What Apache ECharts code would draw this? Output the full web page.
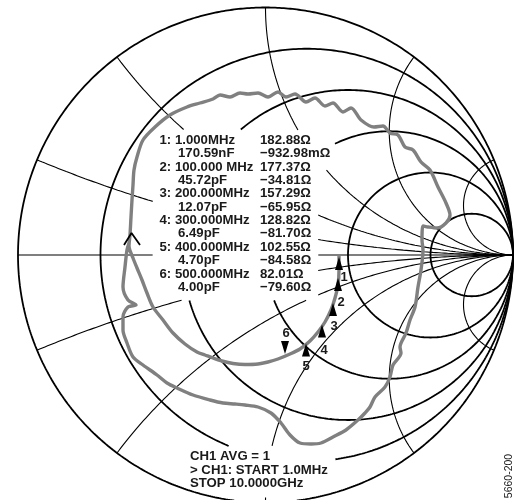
<!DOCTYPE html>
<html>
<head>
<meta charset="utf-8">
<style>html,body{margin:0;padding:0;background:#fff}#c{width:516px;height:500px}</style>
<script src="https://cdn.jsdelivr.net/npm/echarts@6/dist/echarts.min.js"></script>
</head>
<body>
<div id="c"></div>
<script>
// Smith chart grid values (normalised resistance and reactance)
const resistanceCircles = [0.2, 0.5, 1, 2, 5];
const reactanceArcs = [0.2, 0.5, 1, 2, 5, -0.2, -0.5, -1, -2, -5, 0];

// S-parameter trace (plane units, unit circle radius = 247.5)
const traceRe = [73.5,73.5,72.5,69.5,65.5,59.5,52.5,44.5,34.5,24.5,12.5,2.5,-7.5,-20.5,-32.5,-43.5,-52.5,-60.5,-68.5,-80.5,-92.5,-102.5,-112.5,-118.5,-123.5,-128.5,-132.5,-136.5,-135.5,
 -134.5,-133.5,-132.5,-131.5,-128.5,-122.5,-110.5,-95.5,-78.5,-65.5,-52.5,-45.5,-35.5,-25.5,-17.5,-7.5,2.5,12.5,20.5,29.5,40.5,49.5,59.5,67.5,77.5,85.5,95.5,108.5,117.5,124.5,132.5,139.5,147.5,155.5,164.5,172.5,180.5,184.5,180.5,171.5,162.5,157.5,156.5,157.5,
 155.5,152.5,149.5,144.5,140.5,134.5,135.5,127.5,124.5,119.5,109.5,104.5,99.5,92.5,80.5,67.5,55.5,45.5,34.5,24.5,15.5,5.5,-7.5,-20.5,-30.5,-42.5,-55.5,-72.5,-88.5,-98.5,-108.5,-122.5,-132.5,-138.5,-142.5,-142.5,-137.5,-129.5,-137.5,-142.5,-140.5,-138.5,-136.5];
const traceIm = [-1,-15,-30,-43,-55,-67,-77,-86,-94,-99,-104,-107,-109,-109.5,-108.5,-106,-103,-100,-97,-89,-78,-65,-52,-38,-25,-13,-3,9,20,
 38,55,70,85,98,115,128,140,148,152,156,160,158,162,161,162,158,163,158,161,153,157,149,152,143,147,135,128,129,122,120,108,105,93,85,68,52,40,32,27,28,29,15,5,
 -15,-32,-52,-65,-78,-92,-98,-110,-122,-132,-142,-152,-158,-165,-175,-182,-188,-189,-188,-180,-168,-158,-152,-150,-149,-148,-145,-140,-133,-128,-120,-110,-102,-88,-75,-62,-52,-50,-45,-32,-12,5,12];

// Start-of-sweep arrow on the trace
const arrowRe = [-141.5, -134, -125.5];
const arrowIm = [10, 22, 10];

// Frequency markers
const markerRe = [73.5, 72.5, 67.5, 56.5, 40.5, 19.5];
const markerIm = [-8.5, -29.5, -54.5, -76, -95, -92.5];
const markerNames = ['1', '2', '3', '4', '5', '6'];
const markerNameRe = [78.5, 75.5, 68.5, 58.5, 40.5, 20.5];
const markerNameIm = [-22, -47, -71, -95, -111, -78];

// Marker readout text
const readoutLeft = ['1: 1.000MHz','170.59nF','2: 100.000 MHz','45.72pF','3: 200.000MHz','12.07pF','4: 300.000MHz','6.49pF','5: 400.000MHz','4.70pF','6: 500.000MHz','4.00pF'];
const readoutRight = ['182.88Ω','−932.98mΩ','177.37Ω','−34.81Ω','157.29Ω','−65.95Ω','128.82Ω','−81.70Ω','102.55Ω','−84.58Ω','82.01Ω','−79.60Ω'];
const sweepText = ['CH1 AVG = 1','> CH1: START 1.0MHz','STOP 10.0000GHz'];
const figureId = '5660-200';

// Plane: unit circle radius in axis units
const R = 247.5;
// Blank panels kept clear behind the text: [xmin, xmax, ymin, ymax] in plane units
const panels = [
  [-112.5, 52.5, -45, 125],
  [52.5, 69.5, 85, 125],
  [-75.5, 69.5, -242, -191]
];
const inPanel = (p) => panels.some(b => p[0] > b[0] && p[0] < b[1] && p[1] > b[2] && p[1] < b[3]);

function toPlane(r, x) {
  const d = (r + 1) * (r + 1) + x * x;
  return [R * (r * r + x * x - 1) / d, R * (2 * x) / d];
}
function split(points) {
  const segs = []; let cur = [];
  points.forEach(p => {
    if (inPanel(p)) { if (cur.length > 1) segs.push(cur); cur = []; }
    else cur.push(p);
  });
  if (cur.length > 1) segs.push(cur);
  return segs;
}
const baseLine = (data, width) => ({
  type: 'line', data, showSymbol: false, symbol: 'none', silent: true, z: 2,
  lineStyle: { color: '#000', width, cap: 'butt' }, animation: false
});

const series = [];
// Outer circle
const outer = [];
for (let i = 0; i <= 1440; i++) { const a = i / 1440 * 2 * Math.PI; outer.push([R * Math.cos(a), R * Math.sin(a)]); }
series.push(baseLine(outer, 1.8));
// Constant-resistance circles
resistanceCircles.forEach(r => {
  const pts = [];
  const c = R * r / (1 + r), rad = R / (1 + r);
  for (let i = 0; i <= 1440; i++) { const a = i / 1440 * 2 * Math.PI; pts.push([c + rad * Math.cos(a), rad * Math.sin(a)]); }
  split(pts).forEach(s => series.push(baseLine(s, 1.8)));
});
// Constant-reactance arcs
reactanceArcs.forEach(x => {
  const pts = [];
  for (let i = 0; i < 1500; i++) { const t = i / 1500; pts.push(toPlane(t / (1 - t), x)); }
  pts.push([R, 0]);
  split(pts).forEach(s => series.push(baseLine(s, 1.1)));
});
// Trace
series.push({
  type: 'line', data: traceRe.map((v, i) => [v, traceIm[i]]), showSymbol: false, symbol: 'none', z: 5,
  smooth: 0.3,
  lineStyle: { color: '#808080', width: 3.4, join: 'round' }, animation: false
});
// Arrow
series.push({
  type: 'line', data: arrowRe.map((v, i) => [v, arrowIm[i]]), showSymbol: false, symbol: 'none', z: 6,
  lineStyle: { color: '#000', width: 1.8 }, animation: false
});
// Markers
series.push({
  type: 'scatter', z: 7, animation: false, symbol: 'triangle', symbolSize: [8, 13],
  data: markerRe.map((v, i) => ({ value: [v, markerIm[i]], symbolRotate: i === 5 ? 180 : 0 })),
  itemStyle: { color: '#000', opacity: 1 }
});
series.push({
  type: 'scatter', z: 7, animation: false, symbolSize: 0, itemStyle: { opacity: 1 },
  data: markerNameRe.map((v, i) => ({ value: [v, markerNameIm[i]], name: markerNames[i] })),
  label: { show: true, position: 'inside', formatter: p => p.name, fontFamily: 'Liberation Sans', fontWeight: 'bold', fontSize: 13, color: '#1a1a1a', opacity: 1 }
});

const FONT = 'bold 13.2px "Liberation Sans"';
const txt = (text, x, y) => ({ type: 'text', x, y, z: 20, style: { text, x: 0, y: 0, font: FONT, fill: '#1a1a1a', textAlign: 'left', textVerticalAlign: 'middle' } });
const graphics = [];
const rowMid = (i) => 140.3 + i * 13.36;
readoutLeft.forEach((t, i) => graphics.push(txt(t, i % 2 ? 178 : 159.5, rowMid(i))));
readoutRight.forEach((t, i) => graphics.push(txt(t, 260, rowMid(i))));
sweepText.forEach((t, i) => graphics.push(txt(t, 190, 456.5 + i * 13.4)));
graphics.push({ type: 'text', x: 509.5, y: 476, rotation: Math.PI / 2, z: 20,
  style: { text: figureId, x: 0, y: 0, font: '10.5px "Liberation Sans"', fill: '#1a1a1a', textAlign: 'center', textVerticalAlign: 'middle' } });

const chart = echarts.init(document.getElementById('c'), null, { renderer: 'canvas' });
chart.setOption({
  animation: false,
  backgroundColor: '#fff',
  grid: { left: 0, right: 0, top: 0, bottom: 0 },
  xAxis: { type: 'value', min: -265.5, max: 250.5, show: false },
  yAxis: { type: 'value', min: -245, max: 255, show: false },
  tooltip: { show: false },
  legend: { show: false },
  series,
  graphic: graphics
});
</script>
</body>
</html>
